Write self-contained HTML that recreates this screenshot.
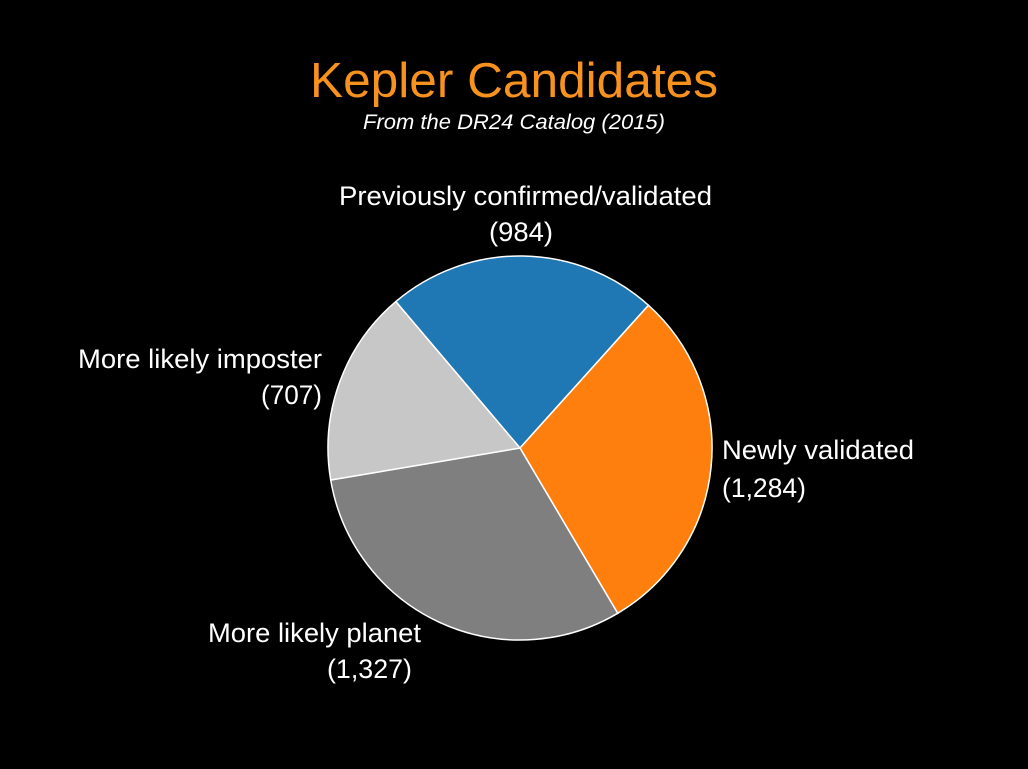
<!DOCTYPE html>
<html><head><meta charset="utf-8"><style>
html,body{margin:0;padding:0;background:#000;width:1028px;height:769px;overflow:hidden}
svg{display:block}
</style></head><body>
<svg width="1028" height="769" viewBox="0 0 1028 769" font-family="Liberation Sans, sans-serif">
<rect width="1028" height="769" fill="#000"/>
<text x="310" y="97" fill="#f7921e" font-size="49" textLength="408" lengthAdjust="spacingAndGlyphs">Kepler Candidates</text>
<text x="363" y="129" fill="#fff" font-size="21" font-style="italic" textLength="302" lengthAdjust="spacingAndGlyphs">From the DR24 Catalog (2015)</text>
<g stroke="#fff" stroke-width="1.5">
<path d="M520,448 L395.8,301.6 A192,192 0 0 1 648.5,305.3 Z" fill="#1f77b4"/>
<path d="M520,448 L648.5,305.3 A192,192 0 0 1 617.7,613.3 Z" fill="#ff7f0e"/>
<path d="M520,448 L617.7,613.3 A192,192 0 0 1 330.7,480 Z" fill="#7f7f7f"/>
<path d="M520,448 L330.7,480 A192,192 0 0 1 395.8,301.6 Z" fill="#c7c7c7"/>
</g>
<g fill="#fff" font-size="27" lengthAdjust="spacingAndGlyphs">
<text x="339" y="205" textLength="373" lengthAdjust="spacingAndGlyphs">Previously confirmed/validated</text>
<text x="489" y="241" textLength="64" lengthAdjust="spacingAndGlyphs">(984)</text>
<text x="722" y="459" textLength="192" lengthAdjust="spacingAndGlyphs">Newly validated</text>
<text x="722" y="497" textLength="84" lengthAdjust="spacingAndGlyphs">(1,284)</text>
<text x="208" y="642" textLength="213" lengthAdjust="spacingAndGlyphs">More likely planet</text>
<text x="327" y="678" textLength="85" lengthAdjust="spacingAndGlyphs">(1,327)</text>
<text x="78" y="368" textLength="244" lengthAdjust="spacingAndGlyphs">More likely imposter</text>
<text x="261" y="404" textLength="61" lengthAdjust="spacingAndGlyphs">(707)</text>
</g>
</svg>
</body></html>
